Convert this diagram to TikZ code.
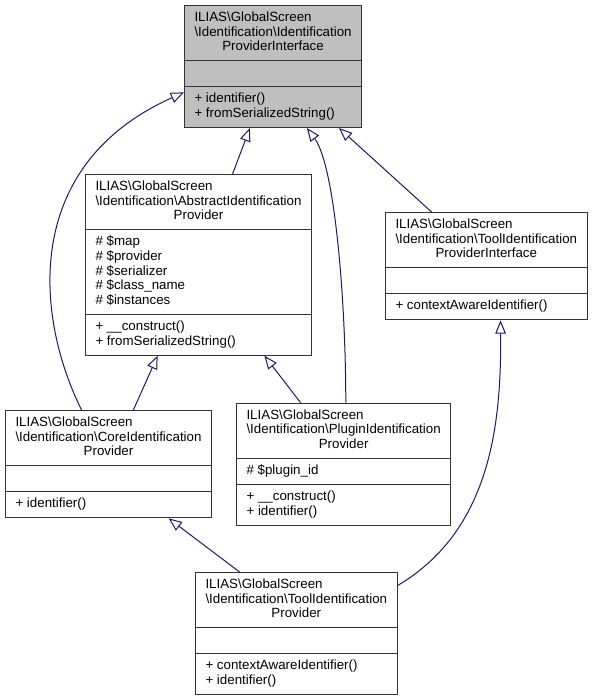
\documentclass[tikz,border=0pt]{standalone}
\usepackage{fontspec}
\setmainfont{Liberation Sans}
\usetikzlibrary{shapes.multipart,arrows.meta,calc,positioning}
\definecolor{edgeblue}{HTML}{191970}
\definecolor{headgray}{HTML}{BFBFBF}
% first lines flush left, last line centred
\newcommand{\ctitle}[2]{\begin{tabular}{@{}l@{}}#1\\\multicolumn{1}{@{}c@{}}{#2}\end{tabular}}
\newcommand{\cmembers}[1]{\begin{tabular}{@{}l@{}}#1\end{tabular}}

\begin{document}
\begin{tikzpicture}[x=0.75pt,y=-0.75pt,
		class/.style={rectangle split,rectangle split parts=3,draw=black!80,line width=0.75pt,fill=white,
			rectangle split part align={center,left,left},inner xsep=7.5pt,inner ysep=3.875pt,
			font=\fontsize{10}{11}\selectfont,anchor=north west},
		inherit/.style={draw=edgeblue,line width=0.75pt,-{Triangle[length=10pt,width=8pt,fill=white]}}]
	\useasboundingbox (0,0) rectangle (595,699);
	%
	\node[class,fill=headgray] (ipi) at (184,5) {\ctitle{ILIAS\textbackslash GlobalScreen\\\textbackslash Identification\textbackslash Identification}{ProviderInterface}
		\nodepart{two}\strut
		\nodepart{three}\cmembers{+ identifier()\\+ fromSerializedString()}};
	\node[class] (aip) at (85,174) {\ctitle{ILIAS\textbackslash GlobalScreen\\\textbackslash Identification\textbackslash AbstractIdentification}{Provider}
		\nodepart{two}\cmembers{\# \$map\\\# \$provider\\\# \$serializer\\\# \$class\_name\\\# \$instances}
		\nodepart{three}\cmembers{+ \_\_construct()\\+ fromSerializedString()}};
	\node[class] (tipi) at (385,212) {\ctitle{ILIAS\textbackslash GlobalScreen\\\textbackslash Identification\textbackslash ToolIdentification}{ProviderInterface}
		\nodepart{two}\strut
		\nodepart{three}\cmembers{+ contextAwareIdentifier()}};
	\node[class] (cip) at (5,410) {\ctitle{ILIAS\textbackslash GlobalScreen\\\textbackslash Identification\textbackslash CoreIdentification}{Provider}
		\nodepart{two}\strut
		\nodepart{three}\cmembers{+ identifier()}};
	\node[class,right=18pt of cip] (pip) {\ctitle{ILIAS\textbackslash GlobalScreen\\\textbackslash Identification\textbackslash PluginIdentification}{Provider}
		\nodepart{two}\cmembers{\# \$plugin\_id}
		\nodepart{three}\cmembers{+ \_\_construct()\\+ identifier()}};
	\node[class] (tip) at (195,572) {\ctitle{ILIAS\textbackslash GlobalScreen\\\textbackslash Identification\textbackslash ToolIdentification}{Provider}
		\nodepart{two}\strut
		\nodepart{three}\cmembers{+ contextAwareIdentifier()\\+ identifier()}};
	%
	\draw[inherit] ($(aip.north west)!0.65!(aip.north east)$) -- ($(ipi.south west)!0.37!(ipi.south east)$);
	\draw[inherit] ($(pip.north west)!0.51!(pip.north east)$) .. controls +(0,-102) and +(28,38) .. ($(ipi.south west)!0.69!(ipi.south east)$);
	\draw[inherit] ($(tipi.north west)!0.23!(tipi.north east)$) -- ($(ipi.south west)!0.87!(ipi.south east)$);
	\draw[inherit] ($(cip.north west)!0.37!(cip.north east)$) .. controls +(-45,-90) and +(-165,74) .. ($(ipi.north west)!0.71!(ipi.south west)$);
	\draw[inherit] ($(cip.north west)!0.62!(cip.north east)$) -- ($(aip.south west)!0.32!(aip.south east)$);
	\draw[inherit] ($(pip.north west)!0.3!(pip.north east)$) -- ($(aip.south west)!0.79!(aip.south east)$);
	\draw[inherit] ($(tip.north west)!0.22!(tip.north east)$) -- ($(cip.south west)!0.79!(cip.south east)$);
	\draw[inherit] ($(tip.north east)!0.11!(tip.south east)$) .. controls +(93,-55) and +(1,104) .. ($(tipi.south west)!0.57!(tipi.south east)$);
\end{tikzpicture}
\end{document}
